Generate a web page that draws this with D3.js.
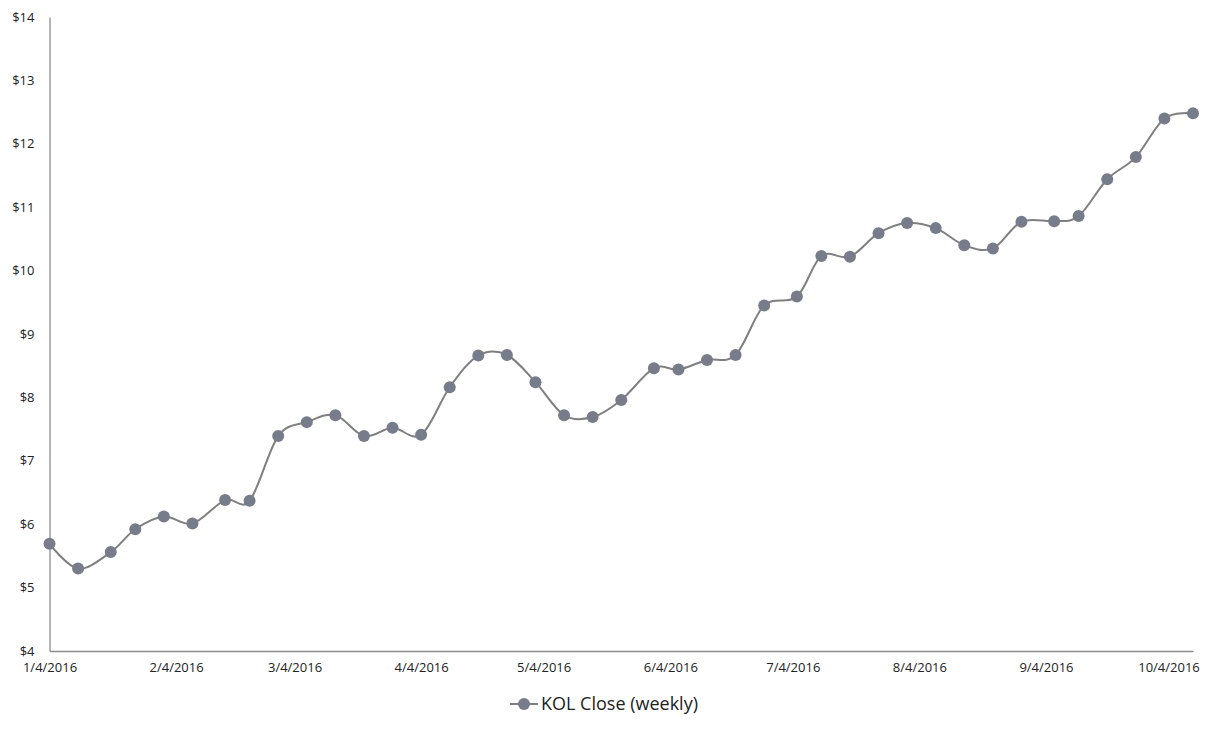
<!DOCTYPE html>
<html>
<head>
<meta charset="utf-8">
<script src="https://cdn.jsdelivr.net/npm/d3@7"></script>
<style>
  body { margin: 0; background: #fff; }
  svg { display: block; font-family: "Open Sans", sans-serif; }
</style>
</head>
<body>
<svg id="chart"></svg>
<script>
// weekly closes (first trading day of each week)
var dates = [
  "2016-01-04", "2016-01-11", "2016-01-19", "2016-01-25", "2016-02-01", "2016-02-08",
  "2016-02-16", "2016-02-22", "2016-02-29", "2016-03-07", "2016-03-14", "2016-03-21",
  "2016-03-28", "2016-04-04", "2016-04-11", "2016-04-18", "2016-04-25", "2016-05-02",
  "2016-05-09", "2016-05-16", "2016-05-23", "2016-05-31", "2016-06-06", "2016-06-13",
  "2016-06-20", "2016-06-27", "2016-07-05", "2016-07-11", "2016-07-18", "2016-07-25",
  "2016-08-01", "2016-08-08", "2016-08-15", "2016-08-22", "2016-08-29", "2016-09-06",
  "2016-09-12", "2016-09-19", "2016-09-26", "2016-10-03", "2016-10-10"
];
var closes = [
  5.69, 5.30, 5.56, 5.92, 6.12, 6.01, 6.38, 6.37, 7.39, 7.61, 7.72, 7.39,
  7.52, 7.41, 8.16, 8.66, 8.67, 8.24, 7.72, 7.69, 7.96, 8.46, 8.44, 8.59,
  8.67, 9.45, 9.59, 10.23, 10.22, 10.59, 10.75, 10.67, 10.40, 10.35, 10.77, 10.78,
  10.86, 11.44, 11.79, 12.40, 12.48
];
var xTicks = ["2016-01-04", "2016-02-04", "2016-03-04", "2016-04-04", "2016-05-04",
  "2016-06-04", "2016-07-04", "2016-08-04", "2016-09-04", "2016-10-04"];
var yTicks = [4, 5, 6, 7, 8, 9, 10, 11, 12, 13, 14];
var seriesName = "KOL Close (weekly)";

var width = 1209, height = 730;
var margin = {top: 17, right: 16, bottom: 79, left: 49.5};

var parse = d3.timeParse("%Y-%m-%d");
var data = dates.map(function (d, i) {
  return {date: parse(d), value: closes[i]};
});

var svg = d3.select("#chart").attr("width", width).attr("height", height);

var x = d3.scaleTime()
  .domain([parse(dates[0]), parse(dates[dates.length - 1])])
  .range([margin.left, width - margin.right]);

var y = d3.scaleLinear()
  .domain([4, 14])
  .range([height - margin.bottom, margin.top]);

var axisColor = "#8c8c8c";

// y axis
var yAxis = svg.append("g")
  .attr("transform", "translate(" + margin.left + ",0)")
  .call(d3.axisLeft(y).tickValues(yTicks).tickSize(0).tickPadding(15)
    .tickFormat(function (d) { return "$" + d; }));
yAxis.select(".domain").attr("stroke", axisColor).attr("stroke-width", 1.3);
yAxis.selectAll("text").attr("font-size", 13).attr("fill", "#222")
  .attr("font-family", "Open Sans, sans-serif");

// x axis
var fmt = d3.timeFormat("%-m/%-d/%Y");
var xAxis = svg.append("g")
  .attr("transform", "translate(0," + (height - margin.bottom) + ")")
  .call(d3.axisBottom(x).tickValues(xTicks.map(parse)).tickSize(0).tickPadding(12)
    .tickFormat(fmt));
xAxis.select(".domain").attr("stroke", axisColor).attr("stroke-width", 1.3);
xAxis.selectAll("text").attr("font-size", 13).attr("fill", "#222")
  .attr("font-family", "Open Sans, sans-serif");

// line
var line = d3.line()
  .x(function (d) { return x(d.date); })
  .y(function (d) { return y(d.value); })
  .curve(d3.curveCardinal.tension(0));

svg.append("path")
  .datum(data)
  .attr("fill", "none")
  .attr("stroke", "#7f7f7f")
  .attr("stroke-width", 2)
  .attr("d", line);

var markerColor = "#767c8a";

svg.append("g")
  .selectAll("circle")
  .data(data)
  .enter().append("circle")
  .attr("cx", function (d) { return x(d.date); })
  .attr("cy", function (d) { return y(d.value); })
  .attr("r", 6)
  .attr("fill", markerColor);

// legend
var legend = svg.append("g").attr("transform", "translate(510,704)");
legend.append("line")
  .attr("x1", 0).attr("x2", 28).attr("y1", 0).attr("y2", 0)
  .attr("stroke", "#7f7f7f").attr("stroke-width", 2);
legend.append("circle")
  .attr("cx", 14).attr("cy", 0).attr("r", 6).attr("fill", markerColor);
legend.append("text")
  .attr("x", 31).attr("y", 0).attr("dy", "0.35em")
  .attr("font-size", 18).attr("fill", "#222")
  .text(seriesName);
</script>
</body>
</html>
